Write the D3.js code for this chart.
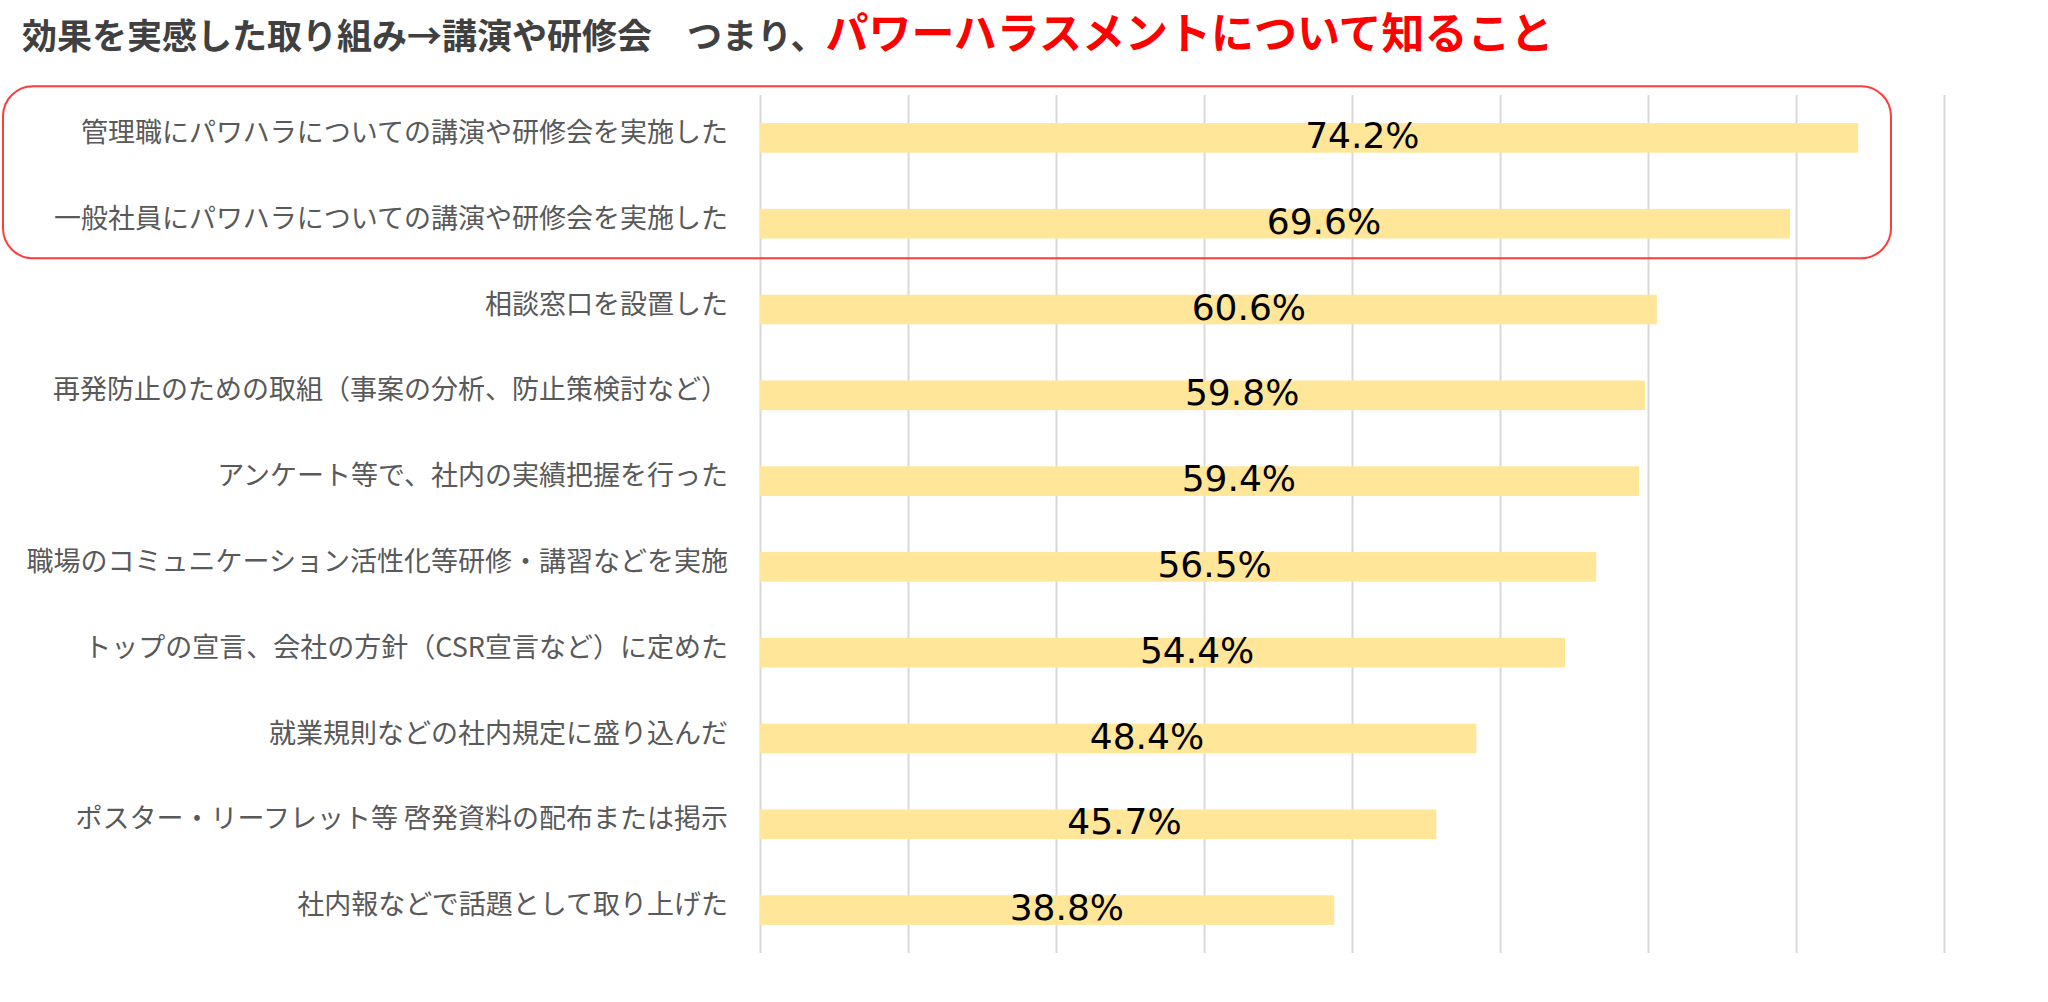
<!DOCTYPE html>
<html>
<head>
<meta charset="utf-8">
<script src="https://cdn.jsdelivr.net/npm/d3@7"></script>
<style>
  body { margin: 0; background: #fff; }
  svg { display: block; }
</style>
</head>
<body>
<svg id="chart"></svg>
<script>
// Chart data
const categories = [
    '管理職にパワハラについての講演や研修会を実施した',
    '一般社員にパワハラについての講演や研修会を実施した',
    '相談窓口を設置した',
    '再発防止のための取組（事案の分析、防止策検討など）',
    'アンケート等で、社内の実績把握を行った',
    '職場のコミュニケーション活性化等研修・講習などを実施',
    'トップの宣言、会社の方針（CSR宣言など）に定めた',
    '就業規則などの社内規定に盛り込んだ',
    'ポスター・リーフレット等 啓発資料の配布または掲示',
    '社内報などで話題として取り上げた',
];
const values = [74.2, 69.6, 60.6, 59.8, 59.4, 56.5, 54.4, 48.4, 45.7, 38.8];
const gridTicks = [0, 10, 20, 30, 40, 50, 60, 70, 80];
const titleMain = '効果を実感した取り組み→講演や研修会　つまり、';
const titleAccent = 'パワーハラスメントについて知ること';

const width = 2048;
const height = 1002;
const plot = { left: 760, right: 1944, top: 95, bottom: 953 };

const svg = d3.select('#chart')
    .attr('width', width)
    .attr('height', height);

const x = d3.scaleLinear()
    .domain([0, 80])
    .range([plot.left, plot.right]);

const y = d3.scaleBand()
    .domain(categories)
    .range([plot.top, plot.bottom])
    .paddingInner(0.655)
    .paddingOuter(0.3275);

// vertical gridlines
const grid = svg.append('g')
    .attr('transform', `translate(0, ${plot.bottom})`)
    .call(d3.axisBottom(x)
        .tickValues(gridTicks)
        .tickSize(-(plot.bottom - plot.top))
        .tickFormat(''));
grid.select('.domain').remove();
grid.selectAll('.tick line')
    .attr('stroke', '#d9d9d9')
    .attr('stroke-width', 2);

// bars
svg.append('g')
    .selectAll('rect')
    .data(values)
    .join('rect')
        .attr('x', x(0))
        .attr('y', (d, i) => y(categories[i]))
        .attr('width', d => x(d) - x(0))
        .attr('height', y.bandwidth())
        .attr('fill', '#ffe699');

// category labels
svg.append('g')
    .selectAll('text')
    .data(categories)
    .join('text')
        .attr('x', x(0) - 32)
        .attr('y', d => y(d) + y.bandwidth() / 2 + 4)
        .attr('text-anchor', 'end')
        .attr('font-family', '"Noto Sans CJK JP", sans-serif')
        .attr('font-size', '27px')
        .attr('fill', '#595959')
        .text(d => d);

// value labels (placed a bit right of the bar middle, as in the original)
svg.append('g')
    .selectAll('text')
    .data(values)
    .join('text')
        .attr('x', d => x(d * 0.564) - 17)
        .attr('y', (d, i) => y(categories[i]) + y.bandwidth() / 2 + 10)
        .attr('text-anchor', 'middle')
        .attr('font-family', '"DejaVu Sans", sans-serif')
        .attr('font-size', '36px')
        .attr('fill', '#000')
        .text(d => `${d.toFixed(1)}%`);

// red rounded box round the first two rows
const boxTop = y(categories[0]) - y.step() * 0.43;
const boxBottom = y(categories[1]) + y.bandwidth() + y.step() * 0.23;
svg.append('rect')
    .attr('x', 3)
    .attr('y', boxTop)
    .attr('width', x(80) - 53 - 3)
    .attr('height', boxBottom - boxTop)
    .attr('rx', 30)
    .attr('ry', 30)
    .attr('fill', 'none')
    .attr('stroke', '#ff3b3b')
    .attr('stroke-width', 2);

// title
const title = svg.append('text')
    .attr('x', 22)
    .attr('y', 49)
    .attr('font-family', '"Noto Sans CJK JP", sans-serif')
    .attr('font-weight', 'bold');
title.append('tspan')
    .attr('font-size', '35px')
    .attr('fill', '#404040')
    .text(titleMain);
title.append('tspan')
    .attr('font-size', '43px')
    .attr('fill', '#ff0000')
    .text(titleAccent);
</script>
</body>
</html>
